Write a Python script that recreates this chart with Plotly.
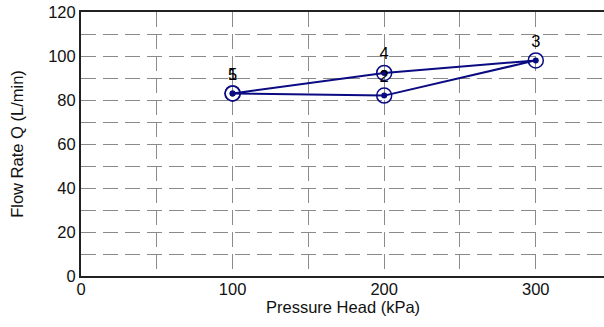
import plotly.graph_objects as go

# Data
pressure_kpa = [100, 200, 300, 200, 100]
flow_lpm = [83, 82, 98, 92.3, 83]
point_labels = ["1", "2", "3", "4", "5"]

x_ticks = [0, 100, 200, 300]
y_ticks = [0, 20, 40, 60, 80, 100, 120]

navy = "#0a0a82"
font_family = "Liberation Sans, Arial, sans-serif"

fig = go.Figure()

fig.add_trace(go.Scatter(
    x=pressure_kpa, y=flow_lpm,
    mode="lines+markers",
    line=dict(color=navy, width=2),
    marker=dict(symbol="circle-open", size=15, color=navy, line=dict(width=1.5, color=navy)),
    showlegend=False,
))
fig.add_trace(go.Scatter(
    x=pressure_kpa, y=flow_lpm,
    mode="markers",
    marker=dict(symbol="circle", size=6, color=navy),
    showlegend=False,
    hoverinfo="skip",
))
fig.add_trace(go.Scatter(
    x=pressure_kpa, y=flow_lpm,
    mode="markers+text",
    text=point_labels,
    textposition="top center",
    textfont=dict(family=font_family, size=16.5, color="#000000"),
    marker=dict(symbol="circle", size=14, color="rgba(0,0,0,0)"),
    showlegend=False,
    hoverinfo="skip",
    cliponaxis=False,
))

grid = dict(showgrid=True, gridcolor="#8a8a8a", gridwidth=1, griddash="15px,7px")

fig.update_layout(
    width=604, height=327,
    margin=dict(l=81, r=0, t=12, b=51),
    paper_bgcolor="white", plot_bgcolor="white",
    font=dict(family=font_family, size=16.5, color="#111111"),
    xaxis=dict(
        range=[0, 345], tickvals=x_ticks, ticktext=[str(v) for v in x_ticks],
        showline=True, linecolor="#222222", linewidth=2, mirror=True,
        ticks="", zeroline=False, ticklabelstandoff=-3,
        minor=dict(dtick=50, tick0=0, showgrid=True, gridcolor="#8a8a8a", gridwidth=1, griddash="15px,7px"),
        **grid,
    ),
    yaxis=dict(
        range=[0, 120], tickvals=y_ticks, ticktext=[str(v) for v in y_ticks],
        showline=True, linecolor="#222222", linewidth=2, mirror=False,
        ticks="", zeroline=False,
        title=dict(text="Flow Rate Q (L/min)", font=dict(size=16.5), standoff=20),
        minor=dict(dtick=10, tick0=0, showgrid=True, gridcolor="#8a8a8a", gridwidth=1, griddash="15px,7px"),
        **grid,
    ),
    annotations=[dict(
        text="Pressure Head (kPa)", xref="paper", yref="paper",
        x=0.5, y=0, xanchor="center", yanchor="middle", yshift=-31,
        showarrow=False, font=dict(size=16.5, family=font_family, color="#111111"),
    )],
)

fig.write_html(
    "out.html",
    config={"displayModeBar": False},
    post_script="document.body.style.margin='0';document.body.style.padding='0';",
)
